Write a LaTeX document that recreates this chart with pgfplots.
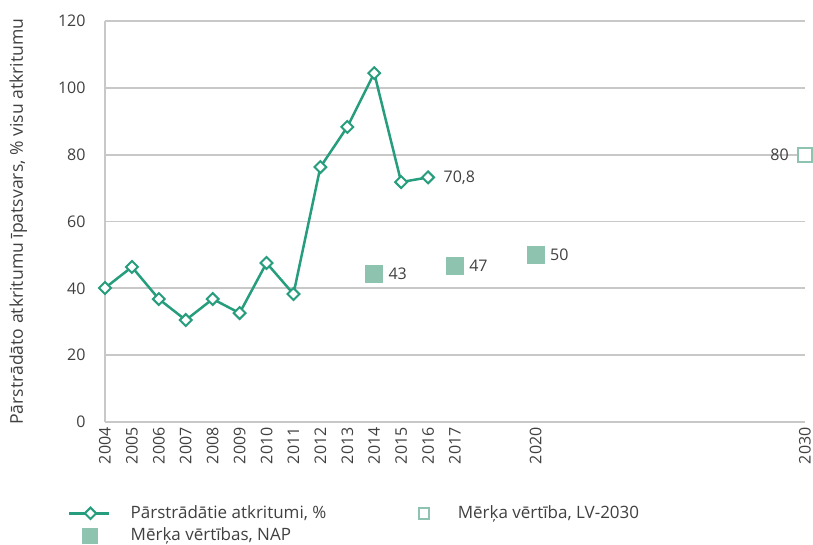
\documentclass[border=0pt]{standalone}
\usepackage{pgfplots}
\pgfplotsset{compat=1.18}
\usepackage{fontspec}
\setmainfont{Open Sans}
\definecolor{tealA}{RGB}{38,157,124}
\definecolor{tealB}{RGB}{142,195,175}
\definecolor{gridc}{RGB}{200,200,200}
\definecolor{txt}{RGB}{64,64,64}
\pgfplotsset{
  legA/.style={legend image code/.code={\path (0pt,0pt) (40pt,0pt); \draw[tealA, line width=2.5pt] (0pt,0pt) -- (40pt,0pt); \draw[tealA, fill=white, line width=2pt, rotate around={45:(21pt,0pt)}] (17pt,-4pt) rectangle (25pt,4pt);}},
  legB/.style={legend image code/.code={\path (0pt,0pt) (40pt,0pt); \draw[tealB, fill=white, line width=2pt] (21.5pt,-5.5pt) rectangle (31.5pt,5.5pt);}},
  legC/.style={legend image code/.code={\path (0pt,0pt) (40pt,0pt); \fill[tealB] (13pt,-7.5pt) rectangle (28pt,7.5pt);}},
}
\begin{document}
\fontsize{16pt}{19pt}\selectfont
\begin{tikzpicture}
\path[use as bounding box] (0,0) rectangle (813pt,544pt);
\begin{axis}[
  at={(105pt,122pt)}, anchor=south west,
  scale only axis, width=700pt, height=401pt,
  xmin=2004, xmax=2030, ymin=0, ymax=120,
  xtick={2004,2005,2006,2007,2008,2009,2010,2011,2012,2013,2014,2015,2016,2017,2020,2030},
  ytick={0,20,40,60,80,100,120},
  /pgf/number format/1000 sep={},
  /pgf/number format/assume math mode=true,
  major tick length=0pt,
  axis x line*=bottom, axis y line*=left,
  axis line style={-, draw=gridc, line width=1.7pt},
  ymajorgrids, major grid style={draw=gridc, line width=1.7pt},
  tick label style={text=txt, font=\fontsize{16pt}{19pt}\selectfont},
  xticklabel style={rotate=90, anchor=east},
  yticklabel style={anchor=east, xshift=-14pt},
  ylabel={Pārstrādāto atkritumu īpatsvars, \% visu atkritumu},
  ylabel style={at={(axis description cs:-0.124,0.5)}, anchor=center, text=txt, font=\fontsize{17.6pt}{20pt}\selectfont},
  clip=false,
  legend columns=2,
  legend cell align=left,
  legend style={at={(axis description cs:-0.0528,-0.203)}, anchor=north west, draw=none, fill=none, inner sep=0pt,
    font=\fontsize{17pt}{20pt}\selectfont, text=txt, row sep=3pt,
    /tikz/every odd column/.append style={column sep=18pt},
    /tikz/every even column/.append style={column sep=69pt}},
]
\addplot[tealA, line width=2.5pt, mark=square*, mark size=4.2pt,
  mark options={rotate=45, fill=white, draw=tealA, line width=2pt, solid}, legA]
coordinates {
(2004,40.1) (2005,46.4) (2006,36.8) (2007,30.5) (2008,36.8) (2009,32.6) (2010,47.6)
(2011,38.3) (2012,76.3) (2013,88.3) (2014,104.4) (2015,71.8) (2016,73.2)
};
\addlegendentry{Pārstrādātie atkritumi, \%}
\addplot[only marks, mark=square*, mark size=7pt,
  mark options={fill=white, draw=tealB, line width=2pt},
  point meta=explicit symbolic, nodes near coords,
  every node near coord/.append style={anchor=east, xshift=-10pt, text=txt, font=\fontsize{16pt}{19pt}\selectfont}, legB]
coordinates {(2030,80) [80]};
\addlegendentry{Mērķa vērtība, LV-2030}
\addplot[only marks, mark=square*, mark size=8.5pt,
  mark options={fill=tealB, draw=tealB, line width=0pt},
  point meta=explicit symbolic, nodes near coords,
  every node near coord/.append style={anchor=west, xshift=9pt, text=txt, font=\fontsize{16pt}{19pt}\selectfont}, legC]
coordinates {(2014,44.3) [43] (2017,46.7) [47] (2020,50.1) [50]};
\addlegendentry{Mērķa vērtības, NAP}
\node[anchor=west, text=txt, font=\fontsize{16pt}{19pt}\selectfont] at (axis cs:2016,73.2) [xshift=10pt] {70,8};
\end{axis}
\end{tikzpicture}
\end{document}
